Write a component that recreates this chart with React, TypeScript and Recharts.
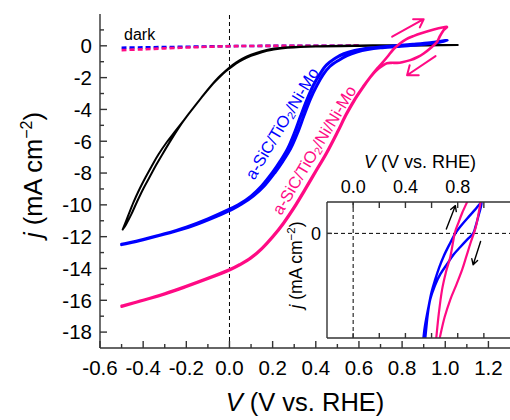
import React from 'react';
import { LineChart, Line, XAxis, YAxis, ReferenceLine, CartesianGrid } from 'recharts';

// main panel: V (V vs. RHE) vs j (mA cm-2), each pair is [V, j]
const darkBlue = [[-0.5, -0.12], [-0.4, -0.1], [-0.3, -0.08], [-0.2, -0.06], [-0.1, -0.04], [0, -0.02], [0.1, -0.01], [0.3, 0], [0.6, 0.01]];
const darkPink = [[-0.5, -0.27], [-0.4, -0.22], [-0.3, -0.16], [-0.2, -0.11], [-0.1, -0.06], [0, -0.03], [0.1, -0.01], [0.3, 0], [0.6, 0.01]];

const blackLoop = [
  [-0.495, -11.55], [-0.47, -10.7], [-0.445, -9.85], [-0.42, -9.1], [-0.39, -8.3], [-0.36, -7.55],
  [-0.33, -6.85], [-0.29, -6.05], [-0.25, -5.35], [-0.21, -4.65], [-0.17, -3.95], [-0.13, -3.25],
  [-0.09, -2.58], [-0.05, -1.98], [-0.02, -1.6], [0, -1.36], [0.03, -1.06], [0.06, -0.81], [0.1, -0.56],
  [0.15, -0.34], [0.2, -0.19], [0.27, -0.09], [0.4, -0.02], [0.6, 0.02], [0.8, 0.04], [1.058, 0.05],
  [0.8, 0.01], [0.6, -0.01], [0.4, -0.05], [0.27, -0.13], [0.2, -0.25], [0.15, -0.4], [0.1, -0.63],
  [0.06, -0.88], [0.03, -1.12], [0, -1.42], [-0.03, -1.75], [-0.07, -2.3], [-0.11, -2.93], [-0.15, -3.6],
  [-0.19, -4.3], [-0.23, -5.05], [-0.27, -5.9], [-0.31, -6.8], [-0.34, -7.5], [-0.37, -8.25],
  [-0.4, -9.0], [-0.43, -9.85], [-0.455, -10.6], [-0.48, -11.25], [-0.495, -11.55],
];

const blueLoop = [
  [-0.5, -12.48], [-0.4, -12.17], [-0.3, -11.82], [-0.2, -11.4], [-0.1, -10.88], [0, -10.27],
  [0.05, -9.92], [0.1, -9.45], [0.15, -8.8], [0.2, -7.95], [0.235, -7.25], [0.27, -6.45], [0.3, -5.5],
  [0.33, -4.4], [0.36, -3.35], [0.39, -2.45], [0.42, -1.75], [0.45, -1.2], [0.49, -0.78], [0.53, -0.5],
  [0.58, -0.3], [0.63, -0.17], [0.7, -0.07], [0.777, 0.02], [0.85, 0.1], [0.93, 0.2], [1.009, 0.34],
  [0.93, 0.14], [0.85, 0.03], [0.777, -0.05], [0.7, -0.13], [0.64, -0.24], [0.59, -0.4], [0.545, -0.62],
  [0.505, -0.92], [0.465, -1.3], [0.435, -1.8], [0.405, -2.5], [0.375, -3.35], [0.345, -4.4], [0.315, -5.5],
  [0.284, -6.45], [0.248, -7.25], [0.212, -7.95], [0.162, -8.8], [0.11, -9.45], [0.06, -9.92], [0.01, -10.3],
  [-0.09, -10.9], [-0.19, -11.42], [-0.3, -11.84], [-0.4, -12.19], [-0.5, -12.5],
];

const pinkLoop = [
  [-0.5, -16.35], [-0.4, -15.98], [-0.3, -15.57], [-0.2, -15.1], [-0.1, -14.6], [0, -14.06],
  [0.05, -13.72], [0.1, -13.3], [0.15, -12.72], [0.2, -11.98], [0.25, -11.12], [0.3, -10.12],
  [0.35, -9.0], [0.4, -7.85], [0.45, -6.7], [0.5, -5.4], [0.54, -4.3], [0.58, -3.35], [0.62, -2.55],
  [0.653, -1.95], [0.68, -1.5], [0.7, -1.2], [0.73, -0.72], [0.761, -0.2], [0.79, 0.15], [0.82, 0.42],
  [0.85, 0.6], [0.885, 0.78], [0.947, 1.03], [1.006, 1.2],
  [0.993, 0.99], [0.975, 0.6], [0.962, 0.25], [0.935, -0.1], [0.9, -0.48], [0.87, -0.72],
  [0.838, -0.9], [0.8, -1.03], [0.777, -1.07], [0.75, -1.07], [0.73, -1.1], [0.71, -1.25],
  [0.691, -1.43], [0.67, -1.7], [0.653, -1.98], [0.62, -2.6], [0.58, -3.42], [0.54, -4.38],
  [0.5, -5.48], [0.45, -6.78], [0.4, -7.93], [0.35, -9.08], [0.3, -10.2], [0.25, -11.2],
  [0.2, -12.05], [0.15, -12.78], [0.1, -13.36], [0.05, -13.78], [0, -14.11], [-0.1, -14.65],
  [-0.2, -15.15], [-0.3, -15.62], [-0.4, -16.02], [-0.5, -16.4],
];

// arrows drawn as tail -> tip -> head -> tip -> head
const pinkArrowUp = [[0.754, 0.57], [0.9, 1.67], [0.851, 1.67], [0.9, 1.67], [0.882, 1.16]];
const pinkArrowDown = [[0.955, -0.65], [0.823, -1.85], [0.877, -1.85], [0.823, -1.85], [0.835, -1.22]];

// inset panel
const insetBlue = [
  [0.538, -1.0], [0.55, -0.88], [0.577, -0.7], [0.6, -0.56], [0.628, -0.44], [0.66, -0.32],
  [0.692, -0.22], [0.735, -0.11], [0.782, 0], [0.83, 0.08], [0.885, 0.16], [0.935, 0.23], [0.982, 0.29],
  [0.955, 0.15], [0.935, 0.06], [0.918, 0], [0.872, -0.06], [0.82, -0.13], [0.77, -0.2],
  [0.72, -0.29], [0.667, -0.39], [0.625, -0.5], [0.59, -0.63], [0.57, -0.78], [0.552, -1.0],
];
const insetPinkA = [[0.636, -1.0], [0.655, -0.77], [0.68, -0.54], [0.71, -0.37], [0.744, -0.22], [0.777, 0], [0.805, 0.1], [0.834, 0.195], [0.872, 0.3]];
const insetPinkB = [[0.662, -1.0], [0.7, -0.8], [0.744, -0.63], [0.79, -0.49], [0.834, -0.347], [0.866, -0.22], [0.898, -0.092], [0.936, 0.05], [0.955, 0.16], [0.975, 0.3]];
const insetArrowUp = [[0.713, 0.042], [0.782, 0.265], [0.746, 0.229], [0.782, 0.265], [0.789, 0.209]];
const insetArrowDown = [[0.975, -0.077], [0.918, -0.3], [0.952, -0.26], [0.918, -0.3], [0.908, -0.243]];

const xMajor = [-0.6, -0.4, -0.2, 0, 0.2, 0.4, 0.6, 0.8, 1.0, 1.2];
const xMinor = [-0.5, -0.3, -0.1, 0.1, 0.3, 0.5, 0.7, 0.9, 1.1];
const yMajor = [-18, -16, -14, -12, -10, -8, -6, -4, -2, 0];
const yMinor = [-17, -15, -13, -11, -9, -7, -5, -3, -1, 1];
const insetXTicks = [0, 0.2, 0.4, 0.6, 0.8, 1.0];
const insetXLabels = [0, 0.4, 0.8];
const insetYTicks = [0];

const BLUE = '#0000ff';
const PINK = '#ff0a84';
const AX = '#333';
const FONT = '"Liberation Sans", Arial, sans-serif';

const pts = (a: number[][]) => a.map(([v, j]) => ({ v, j }));
const has = (list: number[], v: number) => list.some(m => Math.abs(m - v) < 1e-6);
const sortNum = (a: number[]) => [...a].sort((p, q) => p - q);

// Catmull-Rom style curve passing through every point (works for loops)
const smooth: any = (ctx: any) => {
  let p: number[][] = [];
  return {
    areaStart() {},
    areaEnd() {},
    lineStart() { p = []; },
    point(x: number, y: number) { p.push([+x, +y]); },
    lineEnd() {
      if (!p.length) return;
      ctx.moveTo(p[0][0], p[0][1]);
      for (let i = 0; i < p.length - 1; i++) {
        const p0 = p[i - 1] || p[i];
        const p1 = p[i];
        const p2 = p[i + 1];
        const p3 = p[i + 2] || p2;
        ctx.bezierCurveTo(
          p1[0] + (p2[0] - p0[0]) / 6, p1[1] + (p2[1] - p0[1]) / 6,
          p2[0] - (p3[0] - p1[0]) / 6, p2[1] - (p3[1] - p1[1]) / 6,
          p2[0], p2[1],
        );
      }
    },
  };
};

const XTick = (props: any) => {
  const { x, y, payload, side, majors, labels, len, minorLen, fontSize, gap, fmt } = props;
  const v = payload.value;
  const l = has(majors, v) ? len : minorLen;
  const dir = side === 'bottom' ? -1 : 1;
  return (
    <g>
      <line x1={x} y1={y} x2={x} y2={y + dir * l} stroke={AX} strokeWidth={1.4} />
      {has(labels, v) && (
        <text x={x} y={side === 'bottom' ? y + gap : y - gap} textAnchor="middle" fontSize={fontSize} fontFamily={FONT} fill="#000">
          {fmt(v)}
        </text>
      )}
    </g>
  );
};

const YTick = (props: any) => {
  const { x, y, payload, majors, labels, len, minorLen, fontSize, gap } = props;
  const v = payload.value;
  const l = has(majors, v) ? len : minorLen;
  return (
    <g>
      <line x1={x} y1={y} x2={x + l} y2={y} stroke={AX} strokeWidth={1.4} />
      {has(labels, v) && (
        <text x={x - gap} y={y + fontSize * 0.36} textAnchor="end" fontSize={fontSize} fontFamily={FONT} fill="#000">
          {v}
        </text>
      )}
    </g>
  );
};

const lineProps = { type: smooth, dataKey: 'j', dot: false, activeDot: false, isAnimationActive: false, strokeLinejoin: 'round' as const, strokeLinecap: 'round' as const };
const arrowProps = { ...lineProps, type: 'linear' as const };

const MainChart = () => {
  const xt = sortNum([...xMajor, ...xMinor]);
  const yt = sortNum([...yMajor, ...yMinor]);
  const fmt = (v: number) => v.toFixed(1);
  return (
    <LineChart width={510} height={420} margin={{ top: 14, right: 0, left: 0, bottom: 0 }}>
      <XAxis xAxisId="b" type="number" dataKey="v" domain={[-0.6, 1.3]} ticks={xt} interval={0} height={72}
        tickSize={0} tickMargin={0} tickLine={false} axisLine={{ stroke: AX, strokeWidth: 1.4 }} allowDataOverflow
        tick={(p: any) => <XTick {...p} side="bottom" majors={xMajor} labels={xMajor} len={7} minorLen={4} fontSize={20.5} gap={27} fmt={fmt} />} />
      <XAxis xAxisId="t" orientation="top" type="number" dataKey="v" domain={[-0.6, 1.3]} ticks={xt} interval={0} height={0}
        tickSize={0} tickMargin={0} tickLine={false} axisLine={{ stroke: AX, strokeWidth: 1.4 }} allowDataOverflow
        tick={(p: any) => <XTick {...p} side="top" majors={xMajor} labels={[]} len={7} minorLen={4} fontSize={20} gap={0} fmt={fmt} />} />
      <YAxis yAxisId="l" type="number" domain={[-19, 2]} ticks={yt} interval={0} width={100}
        tickSize={0} tickMargin={0} tickLine={false} axisLine={{ stroke: AX, strokeWidth: 1.4 }} allowDataOverflow
        tick={(p: any) => <YTick {...p} majors={yMajor} labels={yMajor} len={7} minorLen={4} fontSize={20.5} gap={8} />} />
      <ReferenceLine xAxisId="b" yAxisId="l" x={0} stroke="#000" strokeWidth={1} strokeDasharray="4 3" />
      <Line {...lineProps} xAxisId="b" yAxisId="l" data={pts(darkBlue)} stroke={BLUE} strokeWidth={2.6} strokeDasharray="5 3" strokeLinecap="butt" />
      <Line {...lineProps} xAxisId="b" yAxisId="l" data={pts(darkPink)} stroke={PINK} strokeWidth={2.6} strokeDasharray="5 3" strokeLinecap="butt" />
      <Line {...lineProps} xAxisId="b" yAxisId="l" data={pts(blackLoop)} stroke="#000" strokeWidth={2} />
      <Line {...lineProps} xAxisId="b" yAxisId="l" data={pts(blueLoop)} stroke={BLUE} strokeWidth={3} />
      <Line {...lineProps} xAxisId="b" yAxisId="l" data={pts(pinkLoop)} stroke={PINK} strokeWidth={2.6} />
      <Line {...arrowProps} xAxisId="b" yAxisId="l" data={pts(pinkArrowUp)} stroke={PINK} strokeWidth={2} />
      <Line {...arrowProps} xAxisId="b" yAxisId="l" data={pts(pinkArrowDown)} stroke={PINK} strokeWidth={2} />
    </LineChart>
  );
};

const InsetChart = () => {
  const fmt = (v: number) => v.toFixed(1);
  return (
    <LineChart width={240} height={205} margin={{ top: 0, right: 0, left: 0, bottom: 0 }}>
      <CartesianGrid xAxisId="b" yAxisId="l" horizontal={false} vertical={false} fill="#fff" fillOpacity={1} />
      <XAxis xAxisId="b" type="number" dataKey="v" domain={[-0.2, 1.2]} ticks={insetXTicks} interval={0} height={7}
        tickSize={0} tickMargin={0} tickLine={false} axisLine={{ stroke: AX, strokeWidth: 1.4 }} allowDataOverflow
        tick={(p: any) => <XTick {...p} side="bottom" majors={insetXTicks} labels={[]} len={5} minorLen={5} fontSize={18} gap={0} fmt={fmt} />} />
      <XAxis xAxisId="t" orientation="top" type="number" dataKey="v" domain={[-0.2, 1.2]} ticks={insetXTicks} interval={0} height={62}
        tickSize={0} tickMargin={0} tickLine={false} axisLine={{ stroke: AX, strokeWidth: 1.4 }} allowDataOverflow
        tick={(p: any) => <XTick {...p} side="top" majors={insetXTicks} labels={insetXLabels} len={6} minorLen={6} fontSize={18} gap={9} fmt={fmt} />} />
      <YAxis yAxisId="l" type="number" domain={[-1, 0.3]} ticks={insetYTicks} interval={0} width={57}
        tickSize={0} tickMargin={0} tickLine={false} axisLine={{ stroke: AX, strokeWidth: 1.4 }} allowDataOverflow
        tick={(p: any) => <YTick {...p} majors={insetYTicks} labels={insetYTicks} len={5} minorLen={5} fontSize={18} gap={6} />} />
      <ReferenceLine xAxisId="b" yAxisId="l" x={0} stroke="#000" strokeWidth={1} strokeDasharray="4 3" />
      <ReferenceLine xAxisId="b" yAxisId="l" y={0} stroke="#000" strokeWidth={1} strokeDasharray="4 3" />
      <Line {...lineProps} xAxisId="b" yAxisId="l" data={pts(insetBlue)} stroke={BLUE} strokeWidth={2.4} />
      <Line {...lineProps} xAxisId="b" yAxisId="l" data={pts(insetPinkA)} stroke={PINK} strokeWidth={2.2} />
      <Line {...lineProps} xAxisId="b" yAxisId="l" data={pts(insetPinkB)} stroke={PINK} strokeWidth={2.2} />
      <Line {...arrowProps} xAxisId="b" yAxisId="l" data={pts(insetArrowUp)} stroke="#000" strokeWidth={1.4} />
      <Line {...arrowProps} xAxisId="b" yAxisId="l" data={pts(insetArrowDown)} stroke="#000" strokeWidth={1.4} />
    </LineChart>
  );
};

const Labels = () => (
  <svg width={510} height={420} style={{ position: 'absolute', left: 0, top: 0, pointerEvents: 'none' }} fontFamily={FONT}>
    <text x={124} y={40} fontSize={16} fill="#000">dark</text>
    <text x={281.7} y={123.3} fontSize={16.5} fill={BLUE} textAnchor="middle" dominantBaseline="central" transform="rotate(-59 281.7 123.3)">
      a-SiC/TiO<tspan fontSize={11} dy={4}>2</tspan><tspan dy={-4}>/Ni-Mo</tspan>
    </text>
    <text x={314} y={150} fontSize={16.5} fill={PINK} textAnchor="middle" dominantBaseline="central" transform="rotate(-59 314 150)">
      a-SiC/TiO<tspan fontSize={11} dy={4}>2</tspan><tspan dy={-4}>/Ni/Ni-Mo</tspan>
    </text>
    <text x={305} y={411} fontSize={25.5} textAnchor="middle" fill="#000">
      <tspan fontStyle="italic">V</tspan>{' (V vs. RHE)'}
    </text>
    <text x={42} y={175} fontSize={25.5} textAnchor="middle" fill="#000" transform="rotate(-90 42 175)">
      <tspan fontStyle="italic">j</tspan>{' (mA cm'}<tspan fontSize={16} dy={-10}>−2</tspan><tspan dy={10}>)</tspan>
    </text>
    <text x={420} y={168} fontSize={18} textAnchor="middle" fill="#000">
      <tspan fontStyle="italic">V</tspan>{' (V vs. RHE)'}
    </text>
    <text x={302} y={265} fontSize={17.5} textAnchor="middle" fill="#000" transform="rotate(-90 302 265)">
      <tspan fontStyle="italic">j</tspan>{' (mA cm'}<tspan fontSize={11.5} dy={-7}>−2</tspan><tspan dy={7}>)</tspan>
    </text>
  </svg>
);

export default function App() {
  return (
    <div style={{ position: 'absolute', left: 0, top: 0, width: 510, height: 420, background: '#fff', fontFamily: FONT }}>
      <MainChart />
      <div style={{ position: 'absolute', left: 270, top: 140 }}>
        <InsetChart />
      </div>
      <Labels />
    </div>
  );
}
